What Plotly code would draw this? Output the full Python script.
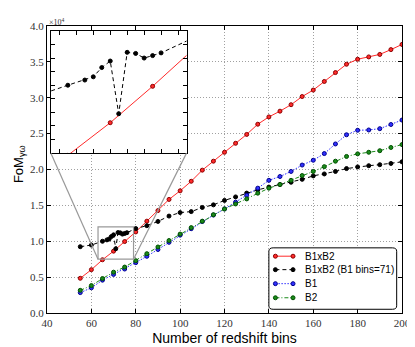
import plotly.graph_objects as go

# ---- data ----
bins = [55, 60, 65, 70, 75, 80, 85, 90, 95, 100, 105, 110, 115, 120, 125,
        130, 135, 140, 145, 150, 155, 160, 165, 170, 175, 180, 185, 190, 195, 200]
fom_b1xb2 = [0.484, 0.604, 0.742, 0.862, 0.996, 1.13, 1.28, 1.427, 1.583, 1.703,
             1.836, 1.991, 2.116, 2.24, 2.365, 2.489, 2.631, 2.733, 2.813, 2.903,
             3.017, 3.107, 3.227, 3.351, 3.467, 3.537, 3.569, 3.604, 3.671, 3.743]
fom_b1 = [0.284, 0.351, 0.458, 0.538, 0.613, 0.702, 0.79, 0.885, 0.985, 1.085,
          1.175, 1.275, 1.365, 1.45, 1.545, 1.64, 1.74, 1.849, 1.902, 1.973,
          2.062, 2.129, 2.222, 2.356, 2.484, 2.547, 2.551, 2.569, 2.627, 2.689]
fom_b2 = [0.316, 0.382, 0.48, 0.569, 0.64, 0.729, 0.827, 0.92, 1.01, 1.1,
          1.19, 1.28, 1.37, 1.45, 1.52, 1.59, 1.67, 1.74, 1.791, 1.849,
          1.916, 1.973, 2.04, 2.116, 2.182, 2.218, 2.24, 2.262, 2.307, 2.347]
bins_fixed = [55, 60, 65, 67, 68, 69, 70, 71, 72, 73, 74, 75, 76,
              80, 85, 90, 95, 100, 105, 110, 115, 120, 125, 130, 135, 140,
              145, 150, 155, 160, 165, 170, 175, 180, 185, 190, 195, 200]
fom_fixed = [0.924, 0.947, 1.0, 1.019, 1.031, 1.065, 1.089, 0.895, 1.121, 1.117,
             1.1, 1.109, 1.119, 1.177, 1.217, 1.276, 1.351, 1.4, 1.413, 1.471,
             1.507, 1.569, 1.618, 1.671, 1.716, 1.755, 1.79, 1.822, 1.863, 1.911,
             1.938, 1.973, 2.013, 2.036, 2.053, 2.067, 2.084, 2.107]

names = ["B1xB2", "B1xB2 (B1 bins=71)", "B1", "B2"]

x_range = [40, 200]
y_range = [0, 4.0]
inset_x = [63, 79]
inset_y = [0.75, 1.2]
inset_dom_x = [0.011, 0.393]
inset_dom_y = [0.557, 0.983]
leg_dom_x = [0.625, 0.985]
leg_dom_y = [0.013, 0.227]

styles = {
    names[0]: dict(color="#ff2a2a", edge="#8b0000", dash="solid"),
    names[1]: dict(color="#000000", edge="#000000", dash="4px,3px"),
    names[2]: dict(color="#3030ff", edge="#00008b", dash="1.5px,1.5px"),
    names[3]: dict(color="#1a8a1a", edge="#005000", dash="4px,2px,1px,2px"),
}

fig = go.Figure()

def add_series(x, y, name, xa="x", ya="y"):
    s = styles[name]
    fig.add_trace(go.Scatter(
        x=x, y=y, name=name, mode="lines+markers", xaxis=xa, yaxis=ya,
        showlegend=False,
        line=dict(color=s["color"], width=1, dash=s["dash"]),
        marker=dict(symbol="circle", size=4, color=s["color"],
                    line=dict(color=s["edge"], width=1)),
    ))

add_series(bins, fom_b1xb2, names[0])
add_series(bins_fixed, fom_fixed, names[1])
add_series(bins, fom_b1, names[2])
add_series(bins, fom_b2, names[3])

# inset copies
add_series(bins, fom_b1xb2, names[0], "x2", "y2")
add_series(bins_fixed, fom_fixed, names[1], "x2", "y2")

# hand-drawn legend (matplotlib style: two points per handle)
leg_rows = [0.864, 0.645, 0.417, 0.1875]
for name, ry in zip(names, leg_rows):
    s = styles[name]
    fig.add_trace(go.Scatter(
        x=[0.051, 0.189], y=[ry, ry], mode="lines+markers", xaxis="x3", yaxis="y3",
        showlegend=False, hoverinfo="skip",
        line=dict(color=s["color"], width=1, dash=s["dash"]),
        marker=dict(symbol="circle", size=4, color=s["color"],
                    line=dict(color=s["edge"], width=1)),
    ))

serif = "Liberation Serif, DejaVu Serif, serif"
sans = "Liberation Sans, Arial, sans-serif"

axis_common = dict(showline=True, linecolor="black", linewidth=1, mirror="ticks",
                   ticks="inside", ticklen=4, tickcolor="black", zeroline=False)
grid = dict(showgrid=True, gridcolor="#a0a0a0", griddash="1px,2px", gridwidth=1)

fig.update_layout(
    width=415, height=347,
    margin=dict(l=39, r=13, t=12, b=35),
    paper_bgcolor="white", plot_bgcolor="white",
    showlegend=False,
    xaxis=dict(range=x_range, dtick=20, tick0=40,
               tickfont=dict(family=serif, size=11, color="#333"),
               title=dict(text="Number of redshift bins",
                          font=dict(family=sans, size=14, color="black"),
                          standoff=4),
               **grid, **axis_common),
    yaxis=dict(range=y_range, dtick=0.5, tick0=0, tickformat=".1f",
               tickfont=dict(family=serif, size=11, color="#333"),
               **grid, **axis_common),
    xaxis2=dict(domain=inset_dom_x, range=inset_x, anchor="y2", dtick=2, tick0=64,
                showticklabels=False, showgrid=False, **axis_common),
    yaxis2=dict(domain=inset_dom_y, range=inset_y, anchor="x2", dtick=0.05, tick0=0.8,
                showticklabels=False, showgrid=False, **axis_common),
    xaxis3=dict(domain=leg_dom_x, range=[0, 1], anchor="y3", visible=False,
                fixedrange=True),
    yaxis3=dict(domain=leg_dom_y, range=[0, 1], anchor="x3", visible=False,
                fixedrange=True),
)

for name, ry in zip(names, leg_rows):
    fig.add_annotation(text=name, xref="x3", yref="y3", x=0.266, y=ry,
                       xanchor="left", yanchor="middle", showarrow=False,
                       font=dict(family=sans, size=10, color="black"))

# inset marker box and connectors
fig.add_shape(type="rect", xref="x", yref="y", x0=inset_x[0], x1=inset_x[1],
              y0=inset_y[0], y1=inset_y[1], line=dict(color="#999999", width=1.2))

def to_paper_x(v):
    return (v - x_range[0]) / (x_range[1] - x_range[0])

def to_paper_y(v):
    return (v - y_range[0]) / (y_range[1] - y_range[0])

for xv, px in [(inset_x[0], inset_dom_x[0]), (inset_x[1], inset_dom_x[1])]:
    fig.add_shape(type="line", xref="paper", yref="paper",
                  x0=to_paper_x(xv), y0=to_paper_y(inset_y[0]),
                  x1=px, y1=inset_dom_y[0],
                  line=dict(color="#999999", width=1.2))

# legend frame (rounded)
lx0, lx1 = leg_dom_x
ly0, ly1 = leg_dom_y
r = 0.012
path = (f"M {lx0+r},{ly0} L {lx1-r},{ly0} Q {lx1},{ly0} {lx1},{ly0+r} "
        f"L {lx1},{ly1-r} Q {lx1},{ly1} {lx1-r},{ly1} L {lx0+r},{ly1} "
        f"Q {lx0},{ly1} {lx0},{ly1-r} L {lx0},{ly0+r} Q {lx0},{ly0} {lx0+r},{ly0} Z")
fig.add_shape(type="path", xref="paper", yref="paper", path=path, layer="above",
              fillcolor="rgba(0,0,0,0)", line=dict(color="black", width=1))

# y title and exponent
fig.add_annotation(text="FoM<sub>γω</sub>", xref="paper", yref="paper",
                   x=-0.078, y=0.52, textangle=-90, showarrow=False,
                   xanchor="center", yanchor="middle",
                   font=dict(family=sans, size=13, color="black"))
fig.add_annotation(text="×10<sup>4</sup>", xref="paper", yref="paper",
                   x=0.0, y=1.0, xanchor="left", yanchor="bottom", showarrow=False,
                   font=dict(family=serif, size=8, color="#333"), yshift=-3)

fig.write_html("out.html")
